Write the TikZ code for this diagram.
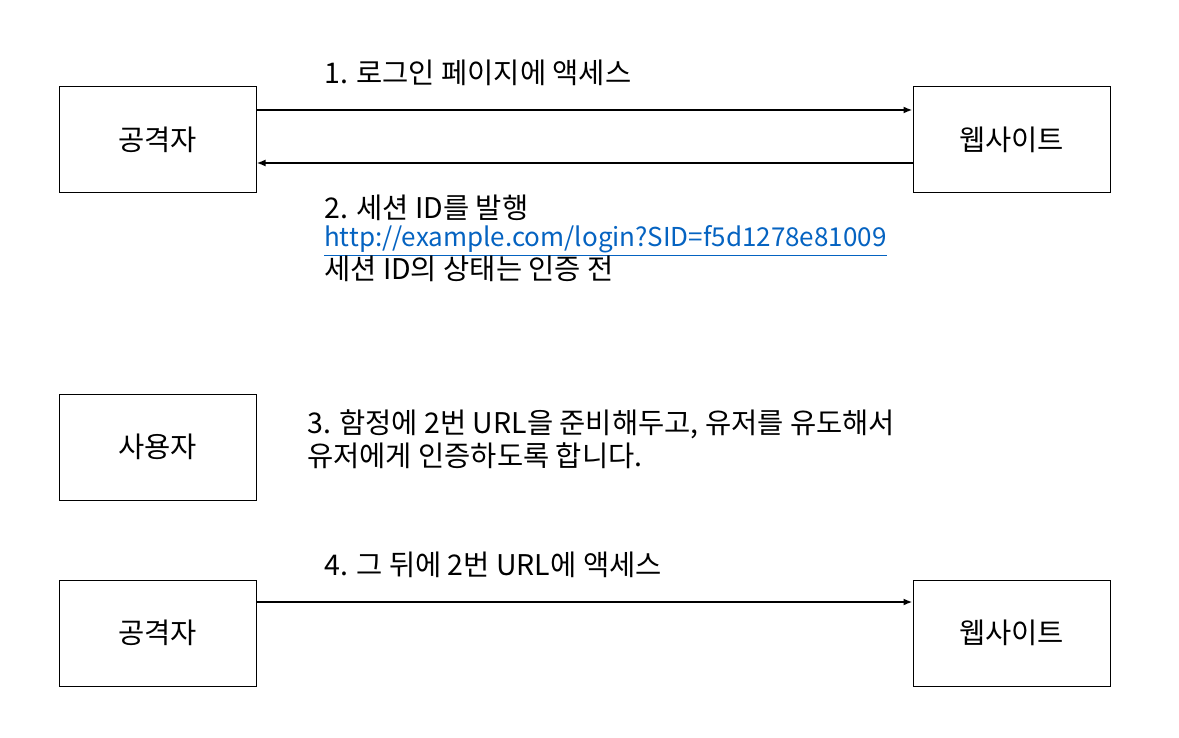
\documentclass[tikz,border=0pt]{standalone}
\usepackage{fontspec}
\setmainfont{Noto Sans CJK KR}
\usepackage{xcolor}
\usetikzlibrary{positioning,arrows.meta}
\definecolor{linkblue}{HTML}{0563C1}

\begin{document}
\begin{tikzpicture}[x=1pt, y=-1pt, node distance = 656pt, font=\fontsize{28.5}{28}\selectfont]
            \tikzstyle{actor} = [draw=black, line width=1pt, minimum width=197pt, minimum height=106pt, inner sep=0pt];
            \tikzstyle{label} = [anchor=base west, inner sep=0pt, align=left];
            \tikzstyle{msg} = [line width=1.8pt, -{Latex[length=9pt, width=7pt]}];
            \useasboundingbox (0,0) rectangle (1179,738);

            \node [actor] (A1) at (157.5,140) {공격자};
            \node [actor, right = of A1] (W1) {웹사이트};

            \node [actor, below = 200pt of A1] (U) {사용자};

            \node [actor, below = 79pt of U] (A2) {공격자};
            \node [actor, right = of A2] (W2) {웹사이트};

            % the base of a node of several lines is its last line
            \node [label] (L1) at (324,84) {1. 로그인 페이지에 액세스};
            \node [label] (L2) at (324,280) {2. 세션 ID를 발행\\
                {\fontsize{26}{28}\selectfont\color{linkblue}\underline{http://example.com/login?SID=f5d1278e81009}}\\
                세션 ID의 상태는 인증 전};
            \node [label, font=\fontsize{28.5}{33}\selectfont] (L3) at (307,466) {3. 함정에 2번 URL을 준비해두고, 유저를 유도해서\\유저에게 인증하도록 합니다.};
            \node [label] (L4) at (324,575) {4. 그 뒤에 2번 URL에 액세스};

            \draw [msg] ([yshift=30pt]A1.east) to ([yshift=30pt]W1.west);
            \draw [msg] ([yshift=-23pt]W1.west) to ([yshift=-23pt]A1.east);
            \draw [msg] ([yshift=31pt]A2.east) to ([yshift=31pt]W2.west);
        \end{tikzpicture}
\end{document}
